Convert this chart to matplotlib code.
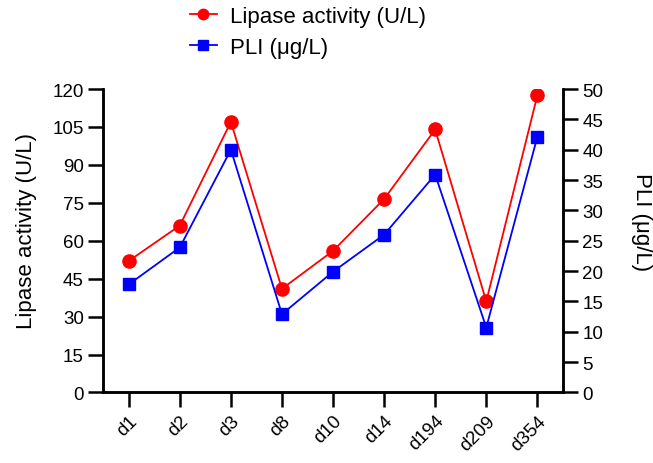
import matplotlib
matplotlib.use('Agg')
import matplotlib.pyplot as plt
from matplotlib.lines import Line2D

plt.rcParams['font.family'] = ['Liberation Sans', 'DejaVu Sans']

## data
days = ['d1', 'd2', 'd3', 'd8', 'd10', 'd14', 'd194', 'd209', 'd354']
lipase = [52, 66, 107, 41, 56, 76.5, 104, 36, 117.5]
pli = [17.8, 23.9, 40, 12.9, 19.9, 26, 35.9, 10.7, 42.1]

fig = plt.figure(figsize=(6.53, 4.64), dpi=100)
ax = fig.add_axes([0.158, 0.152, 0.704, 0.654])
ax2 = ax.twinx()

x = list(range(len(days)))
ax.plot(x, lipase, color='#ff0000', lw=1.3, marker='o', markersize=9.5, zorder=3)
ax2.plot(x, pli, color='#0000ff', lw=1.3, marker='s', markersize=9, zorder=3)

ax.set_xlim(-0.5, 8.5)
ax.set_ylim(0, 120)
ax2.set_ylim(0, 50)
ax.set_yticks(range(0, 121, 15))
ax2.set_yticks(range(0, 51, 5))
ax.set_xticks(x)
ax.set_xticklabels(days, rotation=45, ha='right', va='top', rotation_mode='anchor')

for a in (ax, ax2):
    a.spines['top'].set_visible(False)
    for s in a.spines.values():
        s.set_linewidth(1.8)
    a.tick_params(width=1.8, length=11, labelsize=13.5, pad=3)

ax.set_ylabel('Lipase activity (U/L)', fontsize=16, va='center', ha='center')
ax.yaxis.set_label_coords(-0.167, 0.535)
ax2.set_ylabel('PLI (\u03bcg/L)', fontsize=16, rotation=270, va='center', ha='center')
ax2.yaxis.set_label_coords(1.172, 0.564)

handles = [
    Line2D([], [], color='#ff0000', lw=1.3, marker='o', markersize=7.5),
    Line2D([], [], color='#0000ff', lw=1.3, marker='s', markersize=6.5),
]
fig.legend(handles, ['Lipase activity (U/L)', 'PLI (\u03bcg/L)'],
           loc='upper left', bbox_to_anchor=(190 / 653, 0.985), frameon=False,
           borderpad=0, borderaxespad=0,
           fontsize=16, handlelength=1.2, handletextpad=0.6, labelspacing=0.45)

fig.savefig('out.png', dpi=100)
